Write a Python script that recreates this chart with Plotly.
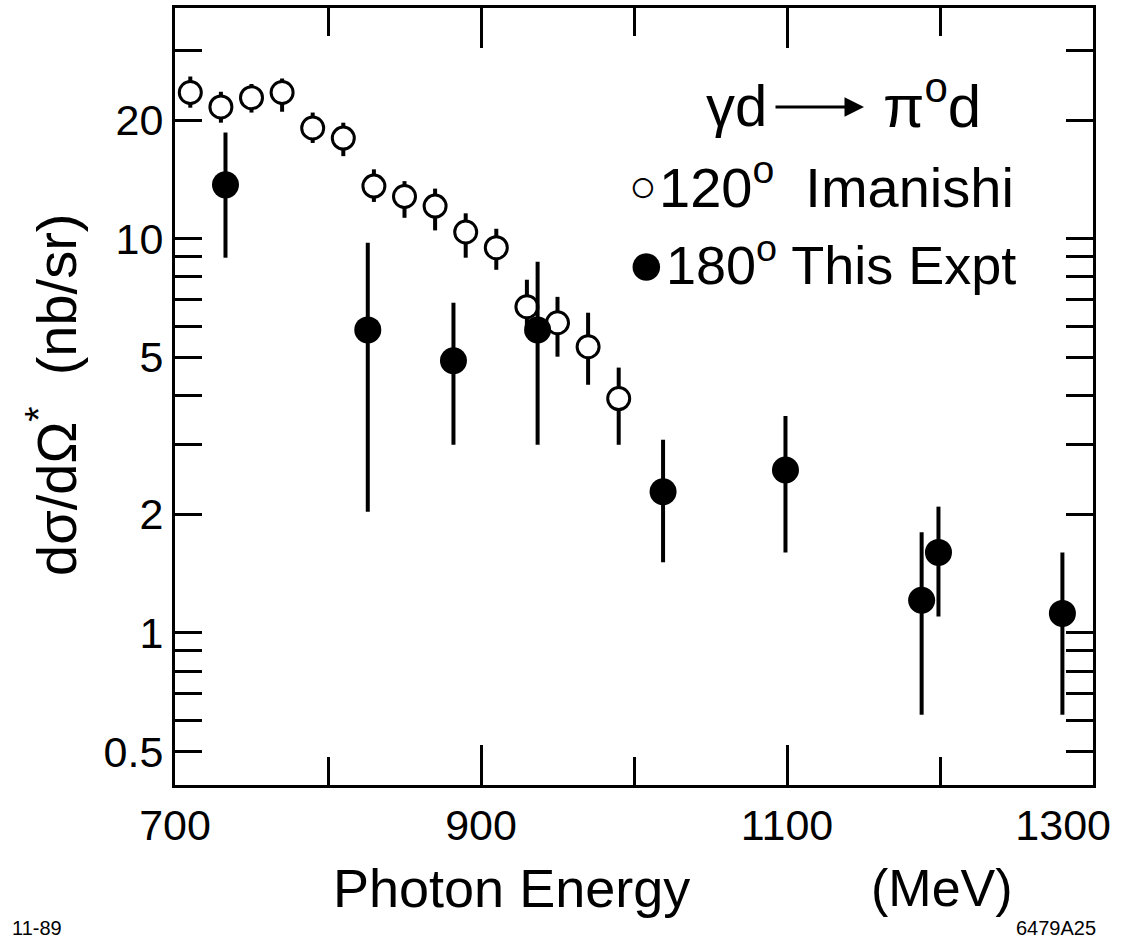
import math
import plotly.graph_objects as go

# ---------------- data ----------------
# 120 deg, Imanishi (open circles)
imanishi_E = [710, 730, 750, 770, 790, 810, 830, 850, 870, 890, 910, 930, 950, 970, 990]
imanishi_val = [23.5, 21.6, 22.8, 23.5, 19.1, 18.0, 13.6, 12.8, 12.1, 10.4, 9.49, 6.72, 6.12, 5.32, 3.93]
imanishi_hi = [25.8, 23.6, 24.7, 25.5, 20.9, 19.7, 15.0, 14.0, 13.4, 11.6, 10.6, 7.87, 7.12, 6.49, 4.71]
imanishi_lo = [21.5, 19.7, 20.9, 21.0, 17.5, 16.2, 12.4, 11.3, 10.5, 8.95, 8.34, 5.74, 5.02, 4.26, 3.00]

# 180 deg, this experiment (filled circles)
expt_E = [733, 826, 882, 937, 1019, 1099, 1188, 1199, 1280]
expt_val = [13.7, 5.87, 4.90, 5.87, 2.28, 2.59, 1.21, 1.60, 1.12]
expt_hi = [18.6, 9.77, 6.88, 8.74, 3.09, 3.55, 1.80, 2.09, 1.60]
expt_lo = [8.95, 2.03, 3.00, 3.00, 1.51, 1.60, 0.62, 1.10, 0.62]

x_ticks = [700, 900, 1100, 1300]
x_ticktext = ["700", "900", "1100", "1300\u00a0\u00a0\u00a0\u00a0\u00a0"]
x_minor = [800, 1000, 1200]
y_ticks = [0.5, 1, 2, 5, 10, 20]
y_ticktext = ["0.5", "1", "2", "5", "10", "20"]
y_minor = [0.6, 0.7, 0.8, 0.9, 3, 4, 6, 7, 8, 9, 30]
y_decades = [1, 10]

# ---------------- layout geometry ----------------
W, H = 1131, 943
L, R, T, B = 175, 38, 8, 158
PW, PH = W - L - R, H - T - B
FONT = "Liberation Sans, Arial, Helvetica, sans-serif"
Y_RANGE = [math.log10(0.411), math.log10(38.5)]


def px(xp):
    return (xp - L) / PW


def py(yp):
    return (H - B - yp) / PH


fig = go.Figure()

fig.add_trace(go.Scatter(
    x=imanishi_E, y=imanishi_val, mode="markers",
    marker=dict(symbol="circle", size=22, color="white",
                line=dict(color="black", width=3)),
    error_y=dict(type="data", symmetric=False,
                 array=[h - v for h, v in zip(imanishi_hi, imanishi_val)],
                 arrayminus=[v - l for v, l in zip(imanishi_val, imanishi_lo)],
                 thickness=4, width=0, color="black"),
    name="120° Imanishi",
))

fig.add_trace(go.Scatter(
    x=expt_E, y=expt_val, mode="markers",
    marker=dict(symbol="circle", size=27, color="black",
                line=dict(color="black", width=0)),
    error_y=dict(type="data", symmetric=False,
                 array=[h - v for h, v in zip(expt_hi, expt_val)],
                 arrayminus=[v - l for v, l in zip(expt_val, expt_lo)],
                 thickness=4, width=0, color="black"),
    name="180° This Expt",
))

axis_common = dict(showgrid=False, zeroline=False, showline=True,
                   linecolor="black", linewidth=3, ticks="inside",
                   tickcolor="black", tickwidth=2.5, mirror="ticks",
                   ticklabeloverflow="allow", automargin=False,
                   tickfont=dict(family=FONT, size=43, color="black"))

fig.update_layout(
    width=W, height=H, autosize=False,
    margin=dict(l=L, r=R, t=T, b=B, pad=0, autoexpand=False),
    paper_bgcolor="white", plot_bgcolor="white",
    showlegend=False,
    xaxis=dict(range=[700, 1300], tickmode="array", tickvals=x_ticks,
               ticktext=x_ticktext, ticklen=40, ticklabelstandoff=0,
               minor=dict(tickmode="array", tickvals=x_minor, ticks="inside",
                          ticklen=28, tickwidth=2.5, tickcolor="black"),
               **axis_common),
    yaxis=dict(type="log", range=Y_RANGE, tickmode="array", tickvals=y_ticks,
               ticktext=y_ticktext, ticklen=27, ticklabelstandoff=0,
               minor=dict(tickmode="array", tickvals=y_minor, ticks="inside",
                          ticklen=27, tickwidth=2.5, tickcolor="black"),
               **axis_common),
    yaxis2=dict(type="log", range=Y_RANGE, overlaying="y", anchor="x", side="left",
                tickmode="array", tickvals=y_decades, ticks="inside", ticklen=40,
                tickwidth=2.5, tickcolor="black", showticklabels=False,
                showline=False, showgrid=False, zeroline=False, mirror="ticks",
                automargin=False),
)

ann = []
# y-axis title
ann.append(dict(text="dσ/dΩ<sup>*</sup>\u00a0\u00a0(nb/sr)", textangle=-90,
                x=px(52), y=py(395), xref="paper", yref="paper",
                xanchor="center", yanchor="middle", showarrow=False,
                font=dict(family=FONT, size=56, color="black")))
# x-axis title
ann.append(dict(text="Photon Energy", x=px(511), y=py(888), xref="paper", yref="paper",
                xanchor="center", yanchor="middle", showarrow=False,
                font=dict(family=FONT, size=54, color="black")))
ann.append(dict(text="(MeV)", x=px(942), y=py(888), xref="paper", yref="paper",
                xanchor="center", yanchor="middle", showarrow=False,
                font=dict(family=FONT, size=52, color="black")))
# corner labels
ann.append(dict(text="11-89", x=px(10), y=py(928), xref="paper", yref="paper",
                xanchor="left", yanchor="middle", showarrow=False,
                font=dict(family=FONT, size=20, color="black")))
ann.append(dict(text="6479A25", x=px(1098), y=py(928), xref="paper", yref="paper",
                xanchor="right", yanchor="middle", showarrow=False,
                font=dict(family=FONT, size=20, color="black")))
# reaction label
ann.append(dict(text="γd", x=px(736), y=py(105), xref="paper", yref="paper",
                xanchor="center", yanchor="middle", showarrow=False,
                font=dict(family=FONT, size=58, color="black")))
ann.append(dict(text="", x=px(864), y=py(107), xref="paper", yref="paper",
                ax=-90, ay=0, showarrow=True, arrowhead=2, arrowsize=1.3,
                arrowwidth=3, arrowcolor="black"))
ann.append(dict(text="π<sup>o</sup>d", x=px(932), y=py(102), xref="paper", yref="paper",
                xanchor="center", yanchor="middle", showarrow=False,
                font=dict(family=FONT, size=60, color="black")))
# legend rows
ann.append(dict(text="○", x=px(643), y=py(186), xref="paper", yref="paper",
                xanchor="center", yanchor="middle", showarrow=False,
                font=dict(family=FONT, size=46, color="black")))
ann.append(dict(text="120<sup>o</sup>\u00a0\u00a0Imanishi", x=px(657), y=py(183),
                xref="paper", yref="paper", xanchor="left", yanchor="middle",
                showarrow=False, font=dict(family=FONT, size=56, color="black")))
ann.append(dict(text="●", x=px(646), y=py(263), xref="paper", yref="paper",
                xanchor="center", yanchor="middle", showarrow=False,
                font=dict(family=FONT, size=64, color="black")))
ann.append(dict(text="180<sup>o</sup> This Expt", x=px(664), y=py(261),
                xref="paper", yref="paper", xanchor="left", yanchor="middle",
                showarrow=False, font=dict(family=FONT, size=54, color="black")))

fig.update_layout(annotations=ann)

fig.write_html("out.html")
